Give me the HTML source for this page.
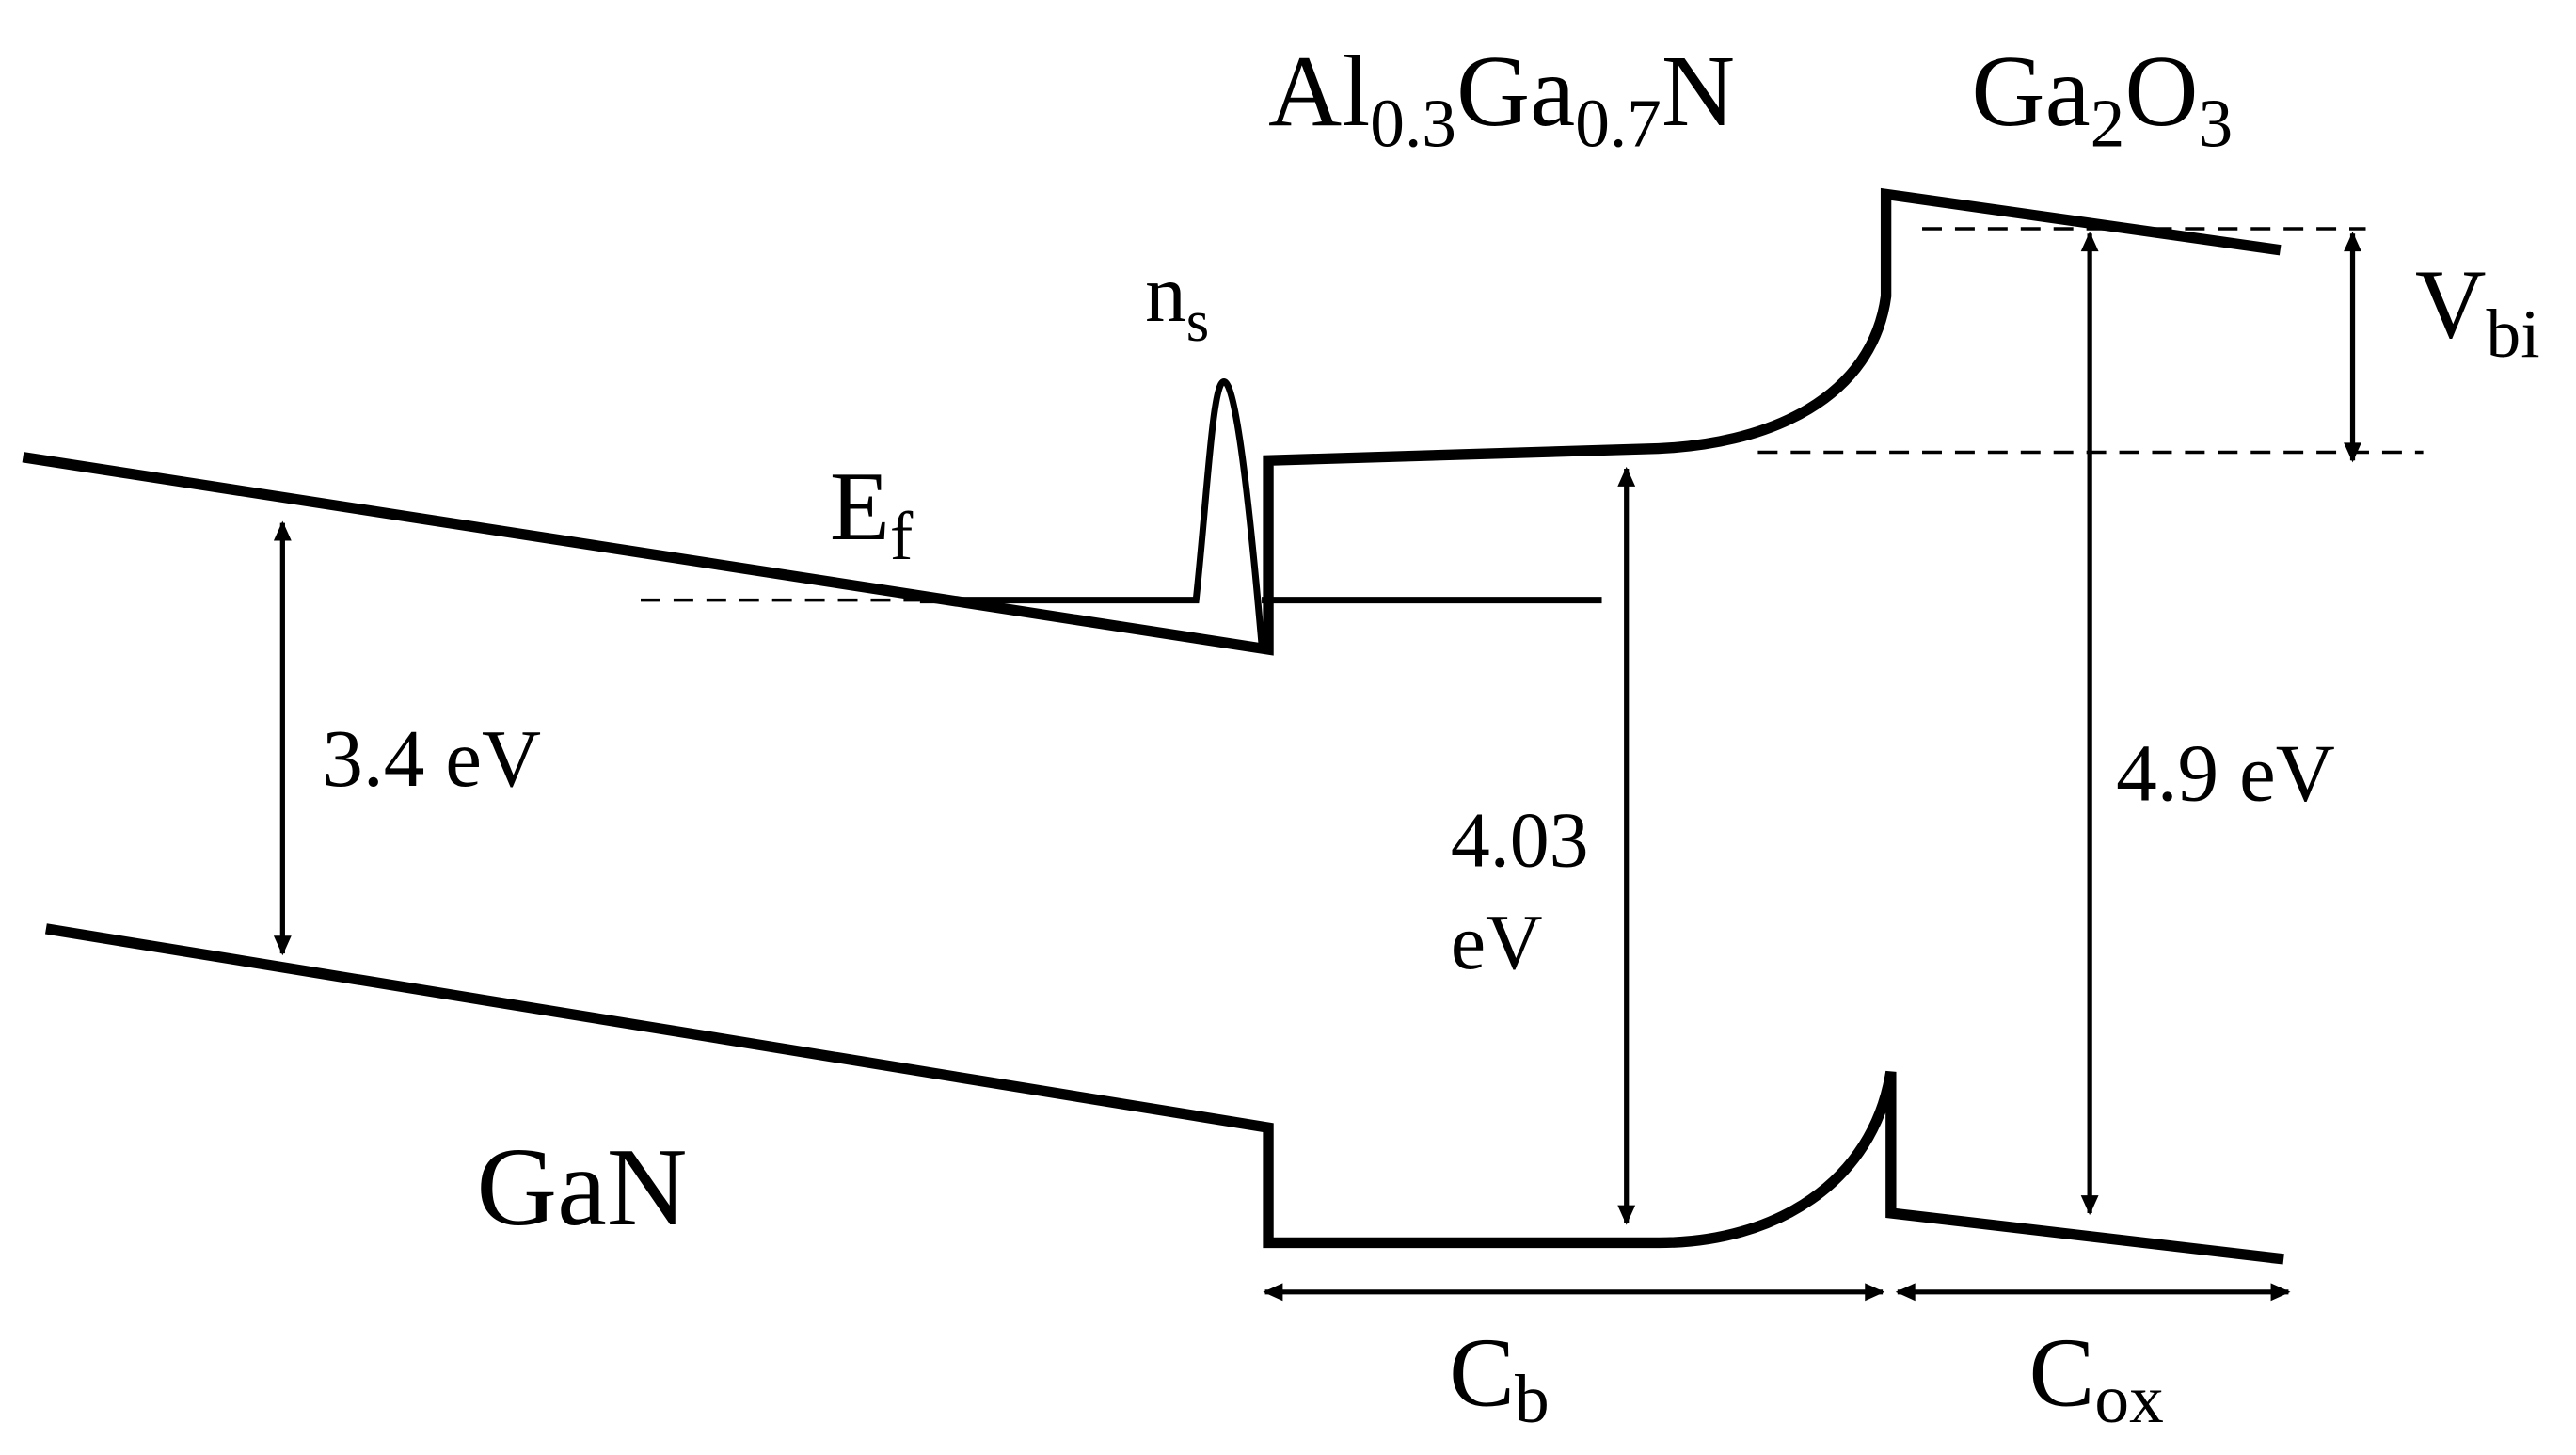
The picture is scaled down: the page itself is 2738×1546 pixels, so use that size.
<!DOCTYPE html>
<html><head><meta charset="utf-8"><style>
html,body{margin:0;padding:0;background:#fff;}
svg{display:block;}
text{font-family:"Liberation Serif",serif;fill:#000;}
</style></head><body>
<svg width="2738" height="1546" viewBox="0 0 1568 885" xmlns="http://www.w3.org/2000/svg">
<defs>
<marker id="a" viewBox="0 0 10 10" refX="9" refY="5" markerWidth="14" markerHeight="12" orient="auto-start-reverse" markerUnits="userSpaceOnUse">
<path d="M0,0.5 L10,5 L0,9.5 z" fill="#000"/></marker>
</defs>
<g fill="none" stroke="#000" stroke-width="6.5" stroke-linejoin="miter">
<path d="M14,278 L772,395 L772,280 L1000,273 C1080,272 1140,240 1148,180 L1148,118 L1388,152"/>
<path d="M28,565 L772,686 L772,756 L1010,756 C1080,756 1140,720 1151,652 L1151,738 L1390,766"/>
</g>
<g fill="none" stroke="#000" stroke-width="4">
<path d="M560,365 L728,365 C735,300 738,232 745,232 C752,232 760,300 768,392"/>
<path d="M768,365 L975,365"/>
</g>
<g stroke="#000" stroke-width="2" stroke-dasharray="12,8" fill="none">
<path d="M390,365 L560,365"/>
<path d="M1170,139 L1440,139"/>
<path d="M1070,275 L1475,275"/>
</g>
<g stroke="#000" stroke-width="3" fill="none" marker-start="url(#a)" marker-end="url(#a)">
<path d="M172,318 L172,580"/>
<path d="M990,285 L990,744"/>
<path d="M1272,142 L1272,738"/>
<path d="M1432,142 L1432,280"/>
<path d="M770,786 L1146,786"/>
<path d="M1155,786 L1393,786"/>
</g>
<text x="772" y="76" font-size="62">Al<tspan font-size="42" dy="13">0.3</tspan><tspan dy="-13">Ga</tspan><tspan font-size="42" dy="13">0.7</tspan><tspan dy="-13">N</tspan></text>
<text x="1200" y="76" font-size="62">Ga<tspan font-size="42" dy="13">2</tspan><tspan dy="-13">O</tspan><tspan font-size="42" dy="13">3</tspan></text>
<text x="697" y="195" font-size="50">n<tspan font-size="36" dy="12">s</tspan></text>
<text x="505" y="328" font-size="60">E<tspan font-size="42" dy="12">f</tspan></text>
<text x="1470" y="205" font-size="60">V<tspan font-size="42" dy="12">bi</tspan></text>
<text x="196" y="478" font-size="50">3.4 eV</text>
<text x="883" y="527" font-size="48">4.03</text>
<text x="883" y="589" font-size="48">eV</text>
<text x="1288" y="487" font-size="50">4.9 eV</text>
<text x="290" y="745" font-size="68">GaN</text>
<text x="882" y="855" font-size="60">C<tspan font-size="42" dy="10">b</tspan></text>
<text x="1235" y="855" font-size="60">C<tspan font-size="42" dy="10">ox</tspan></text>
</svg>
</body></html>
